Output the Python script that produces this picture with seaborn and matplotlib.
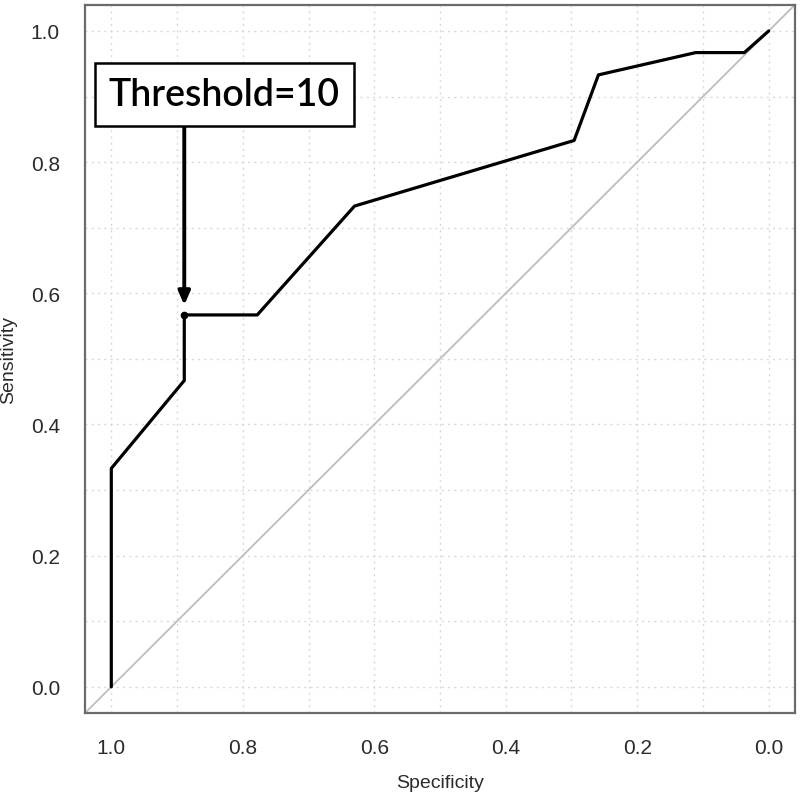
import numpy as np
import pandas as pd
import matplotlib
matplotlib.use('Agg')
import matplotlib.pyplot as plt
import seaborn as sns

# ROC curve (27 negatives, 30 positives)
specificity = [1.0, 1.0, 0.889, 0.889, 0.778, 0.630, 0.296, 0.259, 0.111, 0.037, 0.0]
sensitivity = [0.0, 0.333, 0.467, 0.567, 0.567, 0.733, 0.833, 0.933, 0.967, 0.967, 1.0]
threshold_point = (0.889, 0.567)
threshold_label = 'Threshold=10'
tick_values = [0.0, 0.2, 0.4, 0.6, 0.8, 1.0]

sns.set_style('white')
plt.rcParams['font.family'] = ['Liberation Sans', 'DejaVu Sans']

fig = plt.figure(figsize=(8, 8.04), dpi=100)
ax = fig.add_axes([0.10625, 0.1119, 0.8875, 0.881])

grid_vals = np.round(np.arange(0, 1.01, 0.1), 1)
for g in grid_vals:
    ax.axvline(g, color='#d9d9d9', lw=1.0, ls=(0, (1.5, 3)), zorder=0)
    ax.axhline(g, color='#d9d9d9', lw=1.0, ls=(0, (1.5, 3)), zorder=0)

# chance diagonal
ax.axline((1, 0), (0, 1), color='#bdbdbd', lw=1.3, zorder=1)

roc = pd.DataFrame({'Specificity': specificity, 'Sensitivity': sensitivity})
sns.lineplot(data=roc, x='Specificity', y='Sensitivity', sort=False,
             estimator=None, color='black', lw=2.3, ax=ax, zorder=3)
ax.plot(*threshold_point, 'o', color='black', ms=4.5, zorder=4)

ax.set_xlim(1.04, -0.04)
ax.set_ylim(-0.04, 1.04)
ax.set_xticks(tick_values)
ax.set_yticks(tick_values)
ax.set_xticklabels([f'{v:.1f}' for v in tick_values])
ax.set_yticklabels([f'{v:.1f}' for v in tick_values])
ax.tick_params(axis='both', length=9, width=1.5, color='#6b6b6b',
               labelsize=15, labelcolor='#2b2b2b', pad=9, direction='out')
for s in ax.spines.values():
    s.set_color('#6b6b6b')
    s.set_linewidth(1.6)
ax.set_xlabel('Specificity', fontsize=14, color='#2b2b2b', labelpad=12)
ax.set_ylabel('Sensitivity', fontsize=14, color='#2b2b2b', labelpad=10)

ax.annotate('', xy=(threshold_point[0], 0.582), xytext=(threshold_point[0], 0.854),
            arrowprops=dict(arrowstyle='-|>,head_length=0.8,head_width=0.35',
                            color='black', lw=2.8, shrinkA=0, shrinkB=0), zorder=5)
ax.text(0.828, 0.903, threshold_label, fontsize=27, weight='semibold',
        family=['Lato', 'DejaVu Sans'],
        ha='center', va='center', color='black', zorder=6,
        bbox=dict(boxstyle='square,pad=0.38', fc='white', ec='black', lw=1.8))

fig.savefig('out.png', dpi=100)
